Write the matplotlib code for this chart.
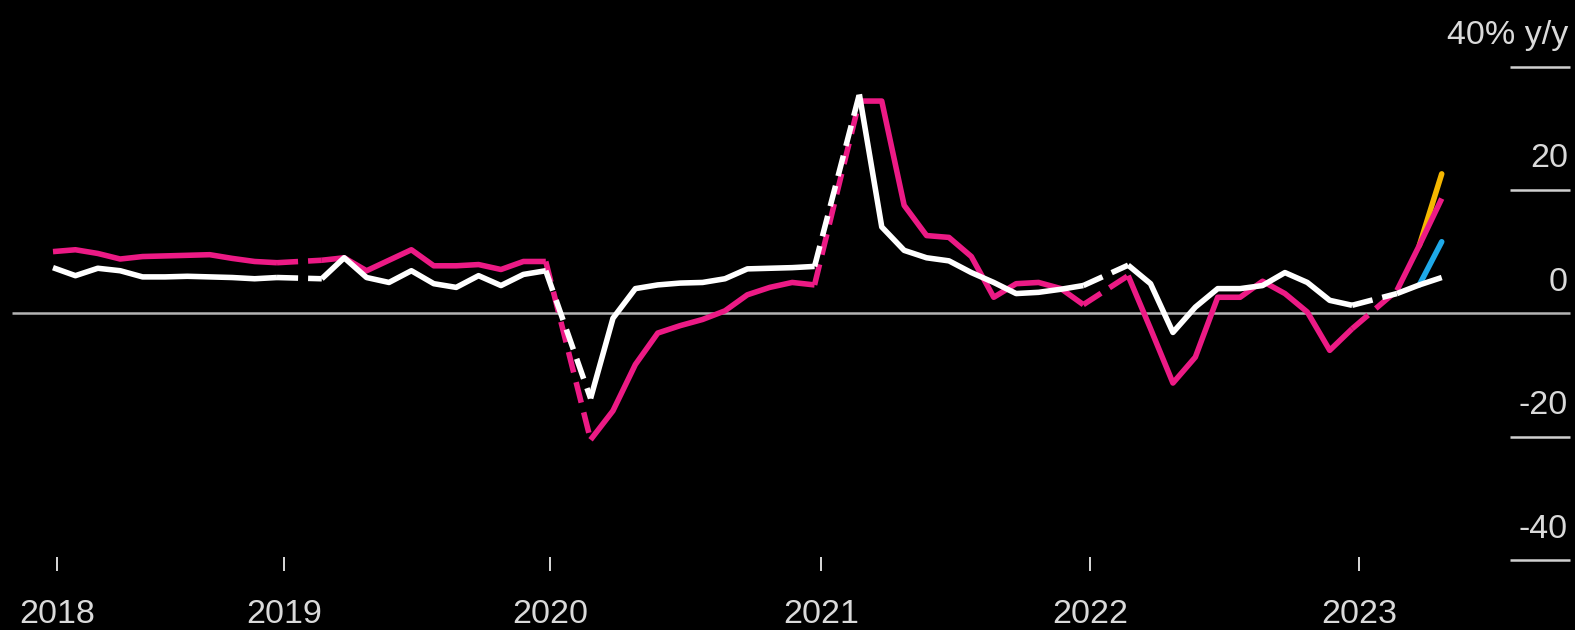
import numpy as np
import matplotlib
matplotlib.use("Agg")
import matplotlib.pyplot as plt

# monthly index, 0 = Feb 2018 ... 62 = Apr 2023 (January is folded into Feb, so nan)
months = np.arange(63)

pink = [10.0, 10.3, 9.7, 8.8, 9.2, 9.3, 9.4, 9.5, 8.9, 8.4, 8.2, np.nan,
        8.6, 9.0, 6.9, 8.6, 10.3, 7.7, 7.7, 7.9, 7.1, 8.4, 8.4, np.nan,
        -20.5, -15.8, -8.3, -3.2, -2.0, -1.0, 0.4, 3.0, 4.2, 5.0, 4.6, np.nan,
        34.4, 34.4, 17.5, 12.6, 12.3, 9.2, 2.6, 4.8, 5.0, 4.0, 1.4, np.nan,
        6.1, -2.5, -11.3, -7.1, 2.6, 2.6, 5.2, 3.2, 0.2, -6.0, -2.5, np.nan,
        3.7, 11.0, 18.6]

white = [7.4, 6.1, 7.3, 6.9, 5.9, 5.9, 6.0, 5.9, 5.8, 5.6, 5.8, np.nan,
         5.6, 9.0, 5.8, 5.0, 6.9, 4.8, 4.2, 6.1, 4.5, 6.3, 6.9, np.nan,
         -13.8, -0.8, 4.0, 4.6, 4.9, 5.0, 5.6, 7.2, 7.3, 7.4, 7.6, np.nan,
         35.5, 14.0, 10.2, 9.0, 8.5, 6.6, 5.0, 3.2, 3.4, 3.9, 4.5, np.nan,
         7.8, 4.8, -3.1, 1.0, 4.0, 4.0, 4.5, 6.6, 5.0, 2.1, 1.3, np.nan,
         3.2, 4.6, 5.8]

# last two months of the extra series
tail_months = [61, 62]
yellow = [11.0, 22.6]
blue = [4.6, 11.6]

year_labels = ["2018", "2019", "2020", "2021", "2022", "2023"]
year_pos = [0.2, 10.3, 22.2, 34.3, 46.3, 58.3]
y_ticks = [40, 20, 0, -20, -40]

PINK = "#ec1a85"
WHITE = "#ffffff"
YELLOW = "#f5b700"
BLUE = "#1ea9e8"
TXT = "#dadada"

plt.rcParams["font.family"] = ["Liberation Sans", "DejaVu Sans"]

fig = plt.figure(figsize=(15.75, 6.3), dpi=100, facecolor="black")
ax = fig.add_axes([0, 0, 1, 1])
ax.set_facecolor("black")
ax.set_xlim(-2.366, 67.95)
ax.set_ylim(-51.33, 50.78)
ax.axis("off")

lw = 4.0
x_right = 67.72

# zero line and right-hand tick lines
ax.hlines(0, -1.83, x_right, color="#b4b4b4", lw=1.8, zorder=1)
for v in y_ticks:
    if v != 0:
        ax.hlines(v, 65.04, x_right, color="#d0d0d0", lw=1.8)
    lab = "40% y/y" if v == 40 else str(v)
    ax.text(67.63, v + 3.65, lab, ha="right", va="baseline",
            color=TXT, fontsize=24.5)

# year ticks
for p, lab in zip(year_pos, year_labels):
    ax.vlines(p, -41.8, -39.5, color=TXT, lw=1.4)
    ax.text(p, -50.2, lab, ha="center", va="baseline", color=TXT, fontsize=24.5)

# extra series underneath
ax.plot(tail_months, yellow, color=YELLOW, lw=lw, solid_capstyle="round", zorder=2)
ax.plot(tail_months, blue, color=BLUE, lw=lw, solid_capstyle="round", zorder=2)

pink = np.array(pink)
white = np.array(white)
gaps = np.where(np.isnan(pink))[0]

for series, col, z in [(pink, PINK, 3), (white, WHITE, 4)]:
    ax.plot(months, series, color=col, lw=lw, solid_joinstyle="round",
            solid_capstyle="butt", zorder=z)
    # dashed bridge across each missing January
    for g in gaps:
        ax.plot([g - 1, g + 1], [series[g - 1], series[g + 1]], color=col, lw=lw,
                linestyle=(0, (3.8, 1.8)), dash_capstyle="butt", zorder=z)

fig.savefig("out.png", dpi=100, facecolor="black")
